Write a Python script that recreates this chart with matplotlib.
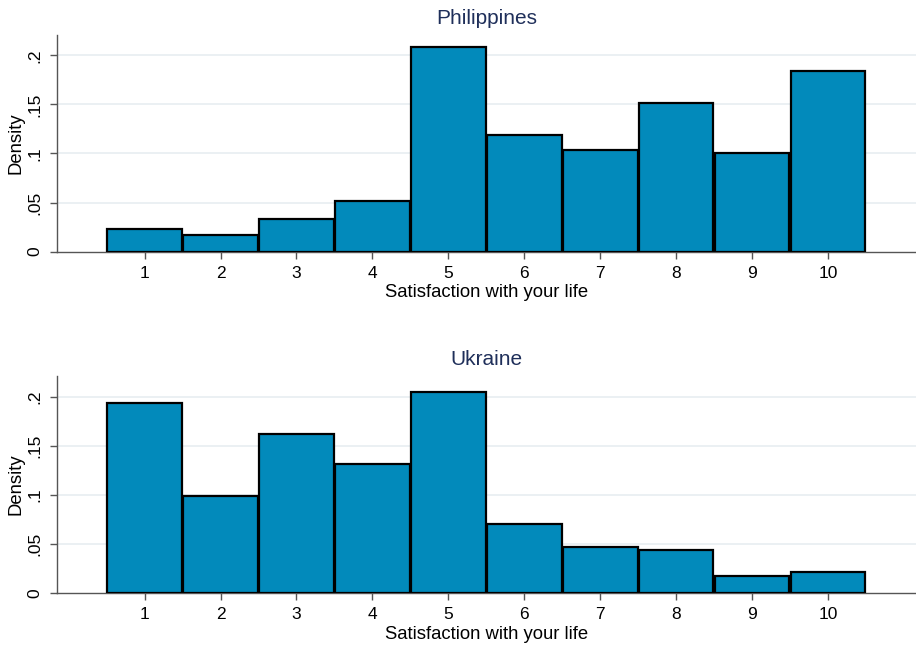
import matplotlib
matplotlib.use("Agg")
import matplotlib.pyplot as plt
import numpy as np

plt.rcParams['font.family'] = ['Liberation Sans', 'DejaVu Sans']

categories = [1, 2, 3, 4, 5, 6, 7, 8, 9, 10]
philippines = [0.0234, 0.0173, 0.0336, 0.0519, 0.2085, 0.1188, 0.1033, 0.1511, 0.1002, 0.1843]
ukraine = [0.1936, 0.0993, 0.1624, 0.1312, 0.2051, 0.0708, 0.0471, 0.0440, 0.0176, 0.0214]
titles = ["Philippines", "Ukraine"]
yticks = [0, 0.05, 0.1, 0.15, 0.2]
yticklabels = ["0", ".05", ".1", ".15", ".2"]
xlabel = "Satisfaction with your life"
ylabel = "Density"

bar_color = "#028abb"
title_color = "#1f2f5a"
grid_color = "#e8eef1"
spine_color = "#555555"

fig = plt.figure(figsize=(9.16, 6.45), dpi=100)
positions = [[0.0626, 0.6098, 0.9374, 0.3364], [0.0626, 0.0802, 0.9374, 0.3369]]

for pos, vals, title in zip(positions, [philippines, ukraine], titles):
    ax = fig.add_axes(pos)
    ax.bar(categories, vals, width=0.985, color=bar_color, edgecolor="black", linewidth=1.6, zorder=3)
    ax.set_xlim(-0.15, 11.16)
    ax.set_ylim(0, 0.221)
    ax.set_yticks(yticks)
    ax.set_yticklabels(yticklabels, rotation=90, va="center", fontsize=12.5)
    ax.set_xticks(categories)
    ax.set_xticklabels([str(c) for c in categories], fontsize=12.5)
    for y in yticks[1:]:
        ax.axhline(y, color=grid_color, linewidth=1.2, zorder=1)
    for s in ["top", "right"]:
        ax.spines[s].set_visible(False)
    ax.spines["left"].set_color(spine_color)
    ax.spines["bottom"].set_color(spine_color)
    ax.spines["left"].set_linewidth(1.0)
    ax.spines["bottom"].set_linewidth(1.0)
    ax.tick_params(axis="both", direction="out", length=5, width=1.0, color=spine_color, pad=5)
    ax.tick_params(axis="y", pad=6)
    ax.set_title(title, color=title_color, fontsize=15, pad=8)
    ax.set_xlabel(xlabel, fontsize=13.3, labelpad=2.5)
    ax.set_ylabel(ylabel, fontsize=13.3, labelpad=2)

fig.savefig("out.png", dpi=100)
